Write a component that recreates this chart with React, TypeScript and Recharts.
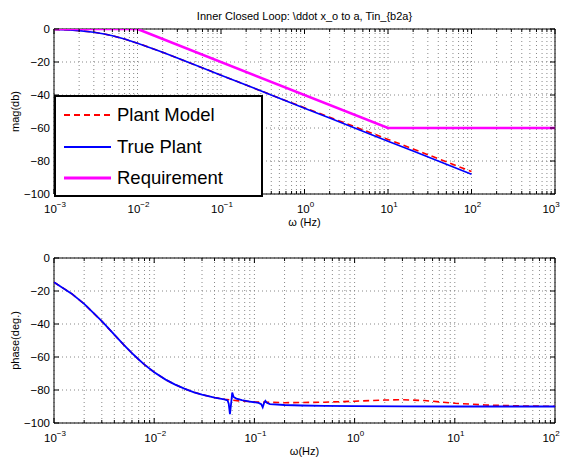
import React from 'react';
import { LineChart, Line, XAxis, YAxis, CartesianGrid, ReferenceArea, Legend } from 'recharts';

const FONT = '"Liberation Sans", Arial, Helvetica, sans-serif';

// ---------- data ----------
const titleText = 'Inner Closed Loop: \\ddot x_o to a, Tin_{b2a}';
const seriesNames = ['Plant Model', 'True Plant', 'Requirement'];

const magFreq = [0.001, 0.0015, 0.002, 0.003, 0.004, 0.005, 0.007, 0.01, 0.015, 0.02, 0.03, 0.05, 0.1, 0.2, 0.5, 1, 2, 5, 10, 20, 50, 100];
const trueMag = [-0.26, -0.57, -0.97, -1.94, -3.01, -4.09, -6.09, -8.6, -11.78, -14.15, -17.58, -21.97, -27.97, -33.98, -41.94, -47.96, -53.98, -61.94, -67.96, -73.98, -81.94, -87.96];
const modelMag = [-0.26, -0.57, -0.97, -1.94, -3.01, -4.09, -6.09, -8.6, -11.78, -14.15, -17.58, -21.97, -27.97, -33.98, -41.9, -47.7, -53.5, -61.1, -66.9, -72.7, -80.5, -86.4];
const reqFreq = [0.001, 0.01, 10, 1000];
const reqMag = [0, 0, -60, -60];

const truePhaseFreq = [0.001, 0.0015, 0.002, 0.003, 0.004, 0.005, 0.006, 0.007, 0.008, 0.01, 0.013, 0.016, 0.02, 0.025, 0.03, 0.04, 0.05, 0.054, 0.0555, 0.057, 0.0585, 0.0601, 0.062, 0.066, 0.075, 0.09, 0.11, 0.117, 0.121, 0.125, 0.1286, 0.133, 0.143, 0.2, 0.3, 0.5, 1, 3, 10, 100];
const truePhase = [-14.7, -21.6, -27.8, -38.3, -46.5, -52.8, -57.7, -61.5, -64.6, -69.2, -73.7, -76.6, -79.2, -81.4, -82.8, -84.6, -85.7, -86.3, -88.5, -94.7, -88.5, -81.6, -84.2, -85.2, -86.2, -87.0, -87.8, -88.6, -90.5, -87.8, -86.6, -87.8, -88.6, -89.1, -89.4, -89.6, -89.8, -89.9, -90, -90];
const modelPhaseFreq = [0.001, 0.0015, 0.002, 0.003, 0.004, 0.005, 0.006, 0.007, 0.008, 0.01, 0.013, 0.016, 0.02, 0.025, 0.03, 0.04, 0.05, 0.07, 0.1, 0.2, 0.5, 1, 2, 3, 5, 7, 10, 20, 50, 100];
const modelPhase = [-14.7, -21.6, -27.8, -38.3, -46.5, -52.8, -57.7, -61.5, -64.6, -69.2, -73.7, -76.6, -79.2, -81.4, -82.8, -84.6, -85.6, -86.6, -87.2, -87.7, -87.4, -86.8, -86.1, -85.9, -86.4, -87.2, -88.0, -89.1, -89.7, -89.9];

const magTicksY = [-100, -80, -60, -40, -20, 0];
const phaseTicksY = [-100, -80, -60, -40, -20, 0];
const topDecades = [-3, -2, -1, 0, 1, 2, 3];
const bottomDecades = [-3, -2, -1, 0, 1, 2];

// ---------- helpers ----------
const zip = (xs: number[], ys: number[]) => xs.map((f, i) => ({ f, v: ys[i] }));
const logTicks = (decs: number[]) => {
  const out: number[] = [];
  decs.forEach((e, i) => {
    const last = i === decs.length - 1;
    for (let m = 1; m <= (last ? 1 : 9); m++) out.push(Number((m * Math.pow(10, e)).toPrecision(6)));
  });
  return out;
};
const isDecade = (v: number) => Math.abs(Math.log10(v) - Math.round(Math.log10(v))) < 1e-6;

type Box = { l: number; r: number; t: number; b: number };
const TOP: Box = { l: 54, r: 555, t: 29, b: 194 };
const BOT: Box = { l: 54, r: 555, t: 18, b: 183 };

const XTick = (props: any) => {
  const { x, payload, box } = props;
  const v = payload.value;
  const major = isDecade(v);
  const len = major ? 5 : 3;
  const exp = Math.round(Math.log10(v));
  const lx = Math.min(x + 1, 551);
  return (
    <g>
      <line x1={x} x2={x} y1={box.b} y2={box.b - len} stroke="#000" strokeWidth={1} />
      <line x1={x} x2={x} y1={box.t} y2={box.t + len} stroke="#000" strokeWidth={1} />
      {major && (
        <text x={lx} y={box.b + 19} textAnchor="middle" fontSize={11.5} fontFamily={FONT} fill="#000">
          <tspan>10</tspan>
          <tspan dy={-6} fontSize={8}>{exp < 0 ? '\u2212' + Math.abs(exp) : String(exp)}</tspan>
        </text>
      )}
    </g>
  );
};

const YTick = (props: any) => {
  const { y, payload, box } = props;
  const v = payload.value;
  const label = v < 0 ? '\u2212' + Math.abs(v) : String(v);
  return (
    <g>
      <line x1={box.l} x2={box.l + 5} y1={y} y2={y} stroke="#000" />
      <line x1={box.r} x2={box.r - 5} y1={y} y2={y} stroke="#000" />
      <text x={box.l - 4} y={y} dy="0.36em" textAnchor="end" fontSize={11.5} fontFamily={FONT} fill="#000">{label}</text>
    </g>
  );
};

const legendItems = [
  { name: seriesNames[0], color: '#ff0000', dash: '6 4', w: 2 },
  { name: seriesNames[1], color: '#0000ff', dash: undefined, w: 2 },
  { name: seriesNames[2], color: '#ff00ff', dash: undefined, w: 3 },
];

const LegendBox = () => (
  <div style={{ boxSizing: 'border-box', width: 209, height: 102, border: '2px solid #000', background: '#fff', position: 'relative', fontFamily: FONT, fontSize: 18.5, color: '#000' }}>
    {legendItems.map((it, i) => (
      <div key={it.name} style={{ position: 'absolute', left: 8, top: 18 + i * 31.5 - 11, height: 22, display: 'flex', alignItems: 'center', whiteSpace: 'nowrap' }}>
        <svg width={47} height={6} style={{ display: 'block' }}>
          <line x1={0} x2={47} y1={3} y2={3} stroke={it.color} strokeWidth={it.w} strokeDasharray={it.dash} />
        </svg>
        <span style={{ marginLeft: 6, lineHeight: '22px' }}>{it.name}</span>
      </div>
    ))}
  </div>
);

const topTicksX = logTicks(topDecades);
const bottomTicksX = logTicks(bottomDecades);

export default function App() {
  return (
    <div style={{ position: 'absolute', left: 0, top: 0, width: 563, height: 461, background: '#fff', fontFamily: FONT }}>
      <div style={{ position: 'absolute', left: 0, top: 9, width: 609, textAlign: 'center', fontSize: 11, lineHeight: '14px', color: '#000' }}>{titleText}</div>

      <div style={{ position: 'absolute', left: 0, top: 0 }}>
        <LineChart width={563} height={240} margin={{ top: 29, right: 8, bottom: 16, left: 10 }}>
          <CartesianGrid stroke="#888" strokeDasharray="1 3" />
          <XAxis dataKey="f" type="number" scale="log" domain={[0.001, 1000]} allowDataOverflow ticks={topTicksX} interval={0}
            tickLine={false} axisLine={false} height={30} tick={(p: any) => <XTick {...p} box={TOP} />}
            label={{ content: () => <text x={(TOP.l + TOP.r) / 2} y={226} textAnchor="middle" fontSize={11} fontFamily={FONT} fill="#000">ω (Hz)</text> }} />
          <YAxis type="number" domain={[-100, 0]} ticks={magTicksY} interval={0} allowDataOverflow width={44}
            tickLine={false} axisLine={false} tick={(p: any) => <YTick {...p} box={TOP} />}
            label={{ content: () => <text x={15} y={(TOP.t + TOP.b) / 2} transform={`rotate(-90 15 ${(TOP.t + TOP.b) / 2})`} dy="0.36em" textAnchor="middle" fontSize={11} fontFamily={FONT} fill="#000">mag(db)</text> }} />
          <Line data={zip(magFreq, modelMag)} dataKey="v" name={seriesNames[0]} stroke="#ff0000" strokeWidth={1.6} strokeDasharray="6 4" dot={false} isAnimationActive={false} />
          <Line data={zip(magFreq, trueMag)} dataKey="v" name={seriesNames[1]} stroke="#0000ff" strokeWidth={1.6} dot={false} isAnimationActive={false} />
          <Line data={zip(reqFreq, reqMag)} dataKey="v" name={seriesNames[2]} stroke="#ff00ff" strokeWidth={2.6} dot={false} isAnimationActive={false} />
          <ReferenceArea x1={0.001} x2={1000} y1={-100} y2={0} fill="none" stroke="#000" strokeWidth={1} ifOverflow="visible" />
          <Legend layout="vertical" align="center" verticalAlign="middle" wrapperStyle={{ left: 54, top: 95, width: 209, height: 102 }} content={() => <LegendBox />} />
        </LineChart>
      </div>

      <div style={{ position: 'absolute', left: 0, top: 240 }}>
        <LineChart width={563} height={221} margin={{ top: 18, right: 8, bottom: 8, left: 10 }}>
          <CartesianGrid stroke="#888" strokeDasharray="1 3" />
          <XAxis dataKey="f" type="number" scale="log" domain={[0.001, 100]} allowDataOverflow ticks={bottomTicksX} interval={0}
            tickLine={false} axisLine={false} height={30} tick={(p: any) => <XTick {...p} box={BOT} />}
            label={{ content: () => <text x={(BOT.l + BOT.r) / 2} y={215} textAnchor="middle" fontSize={11} fontFamily={FONT} fill="#000">ω(Hz)</text> }} />
          <YAxis type="number" domain={[-100, 0]} ticks={phaseTicksY} interval={0} allowDataOverflow width={44}
            tickLine={false} axisLine={false} tick={(p: any) => <YTick {...p} box={BOT} />}
            label={{ content: () => <text x={15} y={(BOT.t + BOT.b) / 2} transform={`rotate(-90 15 ${(BOT.t + BOT.b) / 2})`} dy="0.36em" textAnchor="middle" fontSize={11} fontFamily={FONT} fill="#000">phase(deg.)</text> }} />
          <Line data={zip(modelPhaseFreq, modelPhase)} dataKey="v" name={seriesNames[0]} stroke="#ff0000" strokeWidth={1.6} strokeDasharray="6 4" dot={false} isAnimationActive={false} />
          <Line data={zip(truePhaseFreq, truePhase)} dataKey="v" name={seriesNames[1]} stroke="#0000ff" strokeWidth={1.8} dot={false} isAnimationActive={false} />
          <ReferenceArea x1={0.001} x2={100} y1={-100} y2={0} fill="none" stroke="#000" strokeWidth={1} ifOverflow="visible" />
        </LineChart>
      </div>
    </div>
  );
}
